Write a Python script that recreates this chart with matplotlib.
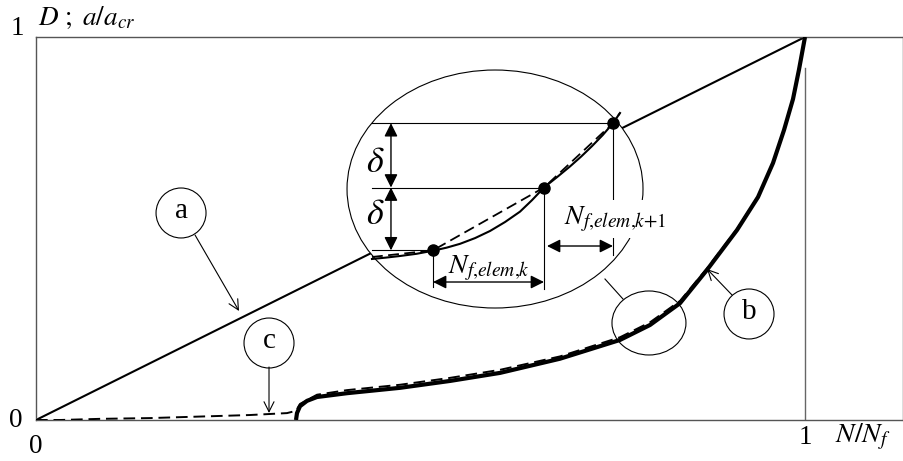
import matplotlib
matplotlib.use("Agg")
import matplotlib.pyplot as plt
from matplotlib.patches import Ellipse

plt.rcParams['font.family'] = ['Liberation Serif', 'DejaVu Serif']
plt.rcParams['mathtext.fontset'] = 'stix'

# (a) linear damage rule D = N/Nf
line_a_x = [0.0, 1.0]
line_a_y = [0.0, 1.0]

# (b) crack-growth ratio a/a_cr
curve_b_x = [0.3381, 0.3394, 0.3433, 0.3524, 0.3654, 0.4044, 0.4733, 0.5384, 0.6034,
             0.6814, 0.7594, 0.7984, 0.8375, 0.8726, 0.9116, 0.9389, 0.9584, 0.9727,
             0.9844, 0.9922, 1.0]
curve_b_y = [0.0, 0.018, 0.036, 0.050, 0.060, 0.070, 0.084, 0.102, 0.123,
             0.160, 0.209, 0.248, 0.305, 0.392, 0.496, 0.582, 0.671, 0.757,
             0.838, 0.915, 1.0]

# (c) piecewise approximation (dashed)
curve_c_x = [0.0, 0.0312, 0.0832, 0.1482, 0.2133, 0.2783, 0.3264, 0.3381, 0.3433, 0.3654,
             0.4044, 0.4733, 0.5384, 0.6034, 0.6814, 0.7594, 0.7984, 0.8375, 0.8726,
             0.9116, 0.9389, 0.9584, 0.9727, 0.9844, 0.9922, 1.0]
curve_c_y = [0.0, 0.0, 0.003, 0.005, 0.009, 0.013, 0.018, 0.024, 0.042, 0.066,
             0.078, 0.092, 0.110, 0.131, 0.166, 0.216, 0.255, 0.311, 0.396,
             0.499, 0.584, 0.672, 0.758, 0.839, 0.916, 1.0]

# magnified detail: element points and curves
elem_x = [0.5163, 0.6606, 0.7503]
elem_y = [0.443, 0.607, 0.775]
detail_solid_x = [0.4369, 0.4550, 0.4733, 0.4950, 0.5163, 0.5340, 0.5514, 0.5710, 0.5904,
                  0.6100, 0.6294, 0.6450, 0.6606, 0.6775, 0.6944, 0.7090, 0.7230, 0.7370,
                  0.7503, 0.7594]
detail_solid_y = [0.4204, 0.4240, 0.4282, 0.4340, 0.4420, 0.4500, 0.4600, 0.4750, 0.4935,
                  0.5170, 0.5440, 0.5740, 0.6070, 0.6340, 0.6620, 0.6880, 0.7150, 0.7440,
                  0.7750, 0.8016]
detail_dash_x = [0.4369, 0.5163, 0.6606, 0.7503, 0.7594]
detail_dash_y = [0.4256, 0.443, 0.607, 0.775, 0.8016]

x_ticks = [0, 1]
y_ticks = [0, 1]

fig = plt.figure(figsize=(9.04, 4.61), dpi=100)
ax = fig.add_axes([36 / 904, 41 / 461, 867 / 904, 383 / 461])
ax.set_xlim(0, 867 / 769)
ax.set_ylim(0, 1)
ax.set_xticks([])
ax.set_yticks([])
for s in ax.spines.values():
    s.set_color('#555555')
    s.set_linewidth(1.0)

TXT = 19.5

# main curves
ax.plot(line_a_x, line_a_y, color='black', lw=1.5, zorder=2)
ax.plot(curve_c_x, curve_c_y, color='black', lw=1.4, ls=(0, (6, 3)), zorder=3)
ax.plot(curve_b_x, curve_b_y, color='black', lw=3.0, zorder=3,
        solid_capstyle='butt')
ax.plot([1, 1], [0, 0.919], color='#666666', lw=1.0, zorder=1)

# tick labels and axis titles
ax.text(-0.024, y_ticks[1] + 0.022, str(y_ticks[1]), fontsize=TXT, ha='center', va='center', clip_on=False)
ax.text(-0.026, y_ticks[0], str(y_ticks[0]), fontsize=TXT, ha='center', va='center', clip_on=False)
ax.text(x_ticks[0], -0.07, str(x_ticks[0]), fontsize=TXT, ha='center', va='center', clip_on=False)
ax.text(x_ticks[1], -0.045, str(x_ticks[1]), fontsize=TXT, ha='center', va='center', clip_on=False)
ax.text(1.075, -0.045, r'$N/N_f$', fontsize=20, ha='center', va='center', clip_on=False)
ax.text(0.002, 1.05, r'$D\ ;\ a/a_{cr}$', fontsize=19.5, ha='left', va='center', clip_on=False)

# detail ellipse (covers the straight line)
ax.add_patch(Ellipse((0.5969, 0.6031), 0.3849, 0.6214, facecolor='white',
                     edgecolor='black', lw=0.8, zorder=4))
ax.add_patch(Ellipse((0.7971, 0.2533), 0.0962, 0.1671, facecolor='none',
                     edgecolor='black', lw=0.8, zorder=4))
ax.plot([0.7399, 0.7633], [0.3681, 0.3159], color='black', lw=0.8, zorder=4)

# detail contents
ax.plot(detail_solid_x, detail_solid_y, color='black', lw=1.5, zorder=5)
ax.plot(detail_dash_x, detail_dash_y, color='black', lw=1.3, ls=(0, (6, 3)), zorder=5)
ax.plot(elem_x, elem_y, 'o', color='black', ms=8, zorder=6)

x_left = 0.4369
for yv, xr in zip(elem_y, elem_x):
    ax.plot([x_left, xr], [yv, yv], color='black', lw=0.8, zorder=5)

arrow_kw = dict(arrowstyle='<|-|>', color='black', lw=1.0, mutation_scale=20,
                shrinkA=0, shrinkB=0)
xv = 0.4616
ax.annotate('', xy=(xv, elem_y[2]), xytext=(xv, elem_y[1]), arrowprops=arrow_kw, zorder=6)
ax.annotate('', xy=(xv, elem_y[1]), xytext=(xv, elem_y[0]), arrowprops=arrow_kw, zorder=6)
ax.text(0.4408, 0.671, r'$\delta$', fontsize=26, ha='center', va='center', zorder=6)
ax.text(0.4408, 0.533, r'$\delta$', fontsize=26, ha='center', va='center', zorder=6)

# horizontal spacing arrows
ax.plot([elem_x[0], elem_x[0]], [elem_y[0], 0.347], color='black', lw=0.8, zorder=5)
ax.plot([elem_x[1], elem_x[1]], [elem_y[1], 0.342], color='black', lw=0.8, zorder=5)
ax.plot([elem_x[2], elem_x[2]], [elem_y[2], 0.430], color='black', lw=0.8, zorder=5)
ax.annotate('', xy=(elem_x[1], 0.3603), xytext=(elem_x[0], 0.3603), arrowprops=arrow_kw, zorder=6)
ax.annotate('', xy=(elem_x[2], 0.4543), xytext=(0.6645, 0.4543), arrowprops=arrow_kw, zorder=6)
ax.text(0.5891, 0.384, r'$N_{f{,}elem{,}k}$', fontsize=20, ha='center', va='baseline', zorder=6)
ax.text(0.6866, 0.512, r'$N_{f{,}elem{,}k{+}1}$', fontsize=20, ha='left', va='baseline', zorder=7,
        bbox=dict(boxstyle='square,pad=0.15', facecolor='white', edgecolor='none'))

# labelled circles with pointers
cw, ch = 0.065, 0.1305
labels = [('a', (0.1886, 0.5405), (0.2068, 0.4830), (0.2640, 0.2846)),
          ('c', (0.3030, 0.2010), (0.3030, 0.1384), (0.3030, 0.0183)),
          ('b', (0.9272, 0.2768), (0.9051, 0.3264), (0.8726, 0.3943))]
for txt, c, p0, p1 in labels:
    ax.add_patch(Ellipse(c, cw, ch, facecolor='white', edgecolor='black', lw=0.8, zorder=4))
    ax.text(c[0], c[1] + 0.005, txt, fontsize=21, ha='center', va='center', zorder=5)
    ax.annotate('', xy=p1, xytext=p0,
                arrowprops=dict(arrowstyle='->', color='black', lw=0.8,
                                mutation_scale=18, shrinkA=0, shrinkB=0), zorder=5)

fig.savefig('out.png', dpi=100)
